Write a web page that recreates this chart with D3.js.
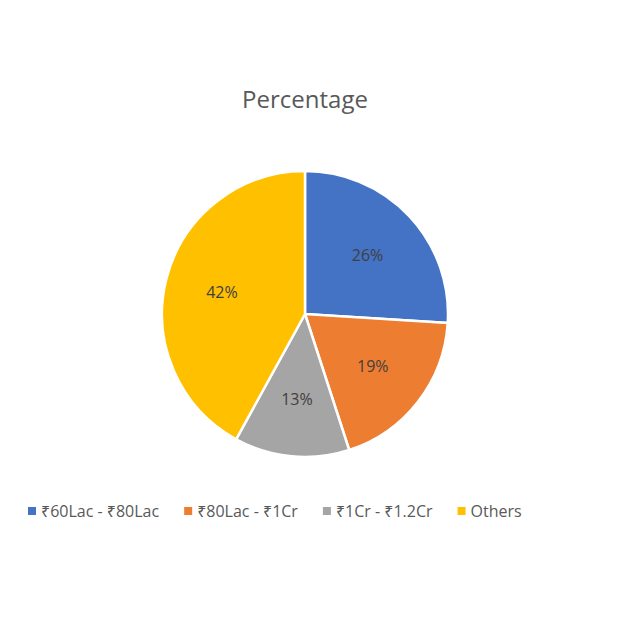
<!DOCTYPE html>
<html><head><meta charset="utf-8">
<script src="https://cdn.jsdelivr.net/npm/d3@7"></script>
<style>body{margin:0;background:#fff;font-family:"Open Sans","Noto Sans",sans-serif;}</style>
</head><body>
<svg id="chart" width="620" height="620"></svg>
<script>
// chart data
var categories = ["₹60Lac - ₹80Lac", "₹80Lac - ₹1Cr", "₹1Cr - ₹1.2Cr", "Others"];
var values = [26, 19, 13, 42];
var colors = ["#4472C4", "#ED7D31", "#A5A5A5", "#FFC000"];

var svg = d3.select("#chart");
svg.append("rect").attr("width", 620).attr("height", 620).attr("fill", "#fff");

svg.append("text").attr("x", 305).attr("y", 108).attr("text-anchor", "middle")
  .attr("font-size", 24).attr("fill", "#595959").text("Percentage");

var radius = 143;
var g = svg.append("g").attr("transform", "translate(305,314)");
var pie = d3.pie().sort(null).value(d => d);
var arc = d3.arc().innerRadius(0).outerRadius(radius);
var labelArc = d3.arc().innerRadius(radius * 0.6).outerRadius(radius * 0.6);

var arcs = pie(values);
g.selectAll("path").data(arcs).enter().append("path")
  .attr("d", arc)
  .attr("fill", (d, i) => colors[i])
  .attr("stroke", "#fff").attr("stroke-width", 2.5);

g.selectAll("text").data(arcs).enter().append("text")
  .attr("transform", d => "translate(" + labelArc.centroid(d) + ")")
  .attr("text-anchor", "middle").attr("dy", "0.35em")
  .attr("font-size", 16).attr("fill", "#404040")
  .text(d => d.data + "%");

// legend
var legend = svg.append("g");
var x = 28;
categories.forEach(function (c, i) {
  var item = legend.append("g").attr("transform", "translate(" + x + ",511)");
  item.append("rect").attr("x", 0).attr("y", -4).attr("width", 8).attr("height", 8).attr("fill", colors[i]);
  var t = item.append("text").attr("x", 13).attr("dy", "0.35em")
    .attr("font-size", 16).attr("fill", "#595959").text(c);
  x += 13 + t.node().getComputedTextLength() + 25;
});
</script>
</body></html>
